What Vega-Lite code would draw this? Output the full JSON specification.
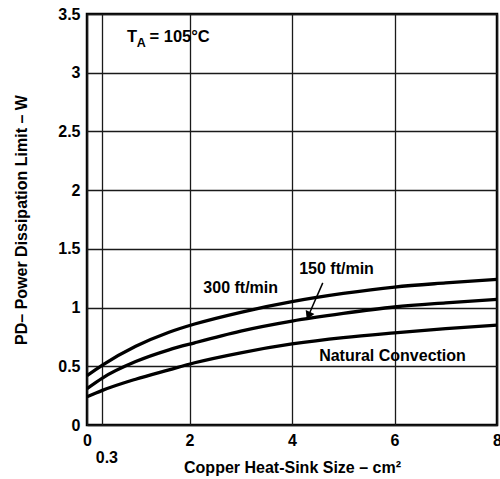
{
  "$schema": "https://vega.github.io/schema/vega-lite/v6.json",
  "width": 410,
  "height": 411,
  "autosize": "none",
  "padding": {"left": 87, "top": 14, "right": 3, "bottom": 54},
  "background": "white",
  "config": {
    "font": "Liberation Sans",
    "view": {"stroke": "black", "strokeWidth": 2.5},
    "axis": {
      "domain": false,
      "ticks": false,
      "gridColor": "#1a1a1a",
      "gridWidth": 1.3,
      "gridOpacity": 1,
      "labelFont": "Liberation Sans",
      "labelFontWeight": "bold",
      "labelFontSize": 16,
      "labelColor": "black",
      "titleFont": "Liberation Sans",
      "titleFontWeight": "bold",
      "titleFontSize": 16,
      "titleColor": "black"
    }
  },
  "datasets": {
    "curves": [
      {"area": 0, "pd": 0.42, "series": "300 ft/min"},
      {"area": 0.3, "pd": 0.51, "series": "300 ft/min"},
      {"area": 0.95, "pd": 0.67, "series": "300 ft/min"},
      {"area": 1.6, "pd": 0.79, "series": "300 ft/min"},
      {"area": 2.1, "pd": 0.86, "series": "300 ft/min"},
      {"area": 3, "pd": 0.96, "series": "300 ft/min"},
      {"area": 4, "pd": 1.05, "series": "300 ft/min"},
      {"area": 5, "pd": 1.12, "series": "300 ft/min"},
      {"area": 6, "pd": 1.175, "series": "300 ft/min"},
      {"area": 7, "pd": 1.21, "series": "300 ft/min"},
      {"area": 8, "pd": 1.24, "series": "300 ft/min"},
      {"area": 0, "pd": 0.31, "series": "150 ft/min"},
      {"area": 0.3, "pd": 0.40, "series": "150 ft/min"},
      {"area": 0.95, "pd": 0.54, "series": "150 ft/min"},
      {"area": 1.6, "pd": 0.64, "series": "150 ft/min"},
      {"area": 2.1, "pd": 0.70, "series": "150 ft/min"},
      {"area": 3, "pd": 0.80, "series": "150 ft/min"},
      {"area": 4, "pd": 0.885, "series": "150 ft/min"},
      {"area": 5, "pd": 0.95, "series": "150 ft/min"},
      {"area": 6, "pd": 1.005, "series": "150 ft/min"},
      {"area": 7, "pd": 1.04, "series": "150 ft/min"},
      {"area": 8, "pd": 1.07, "series": "150 ft/min"},
      {"area": 0, "pd": 0.24, "series": "Natural Convection"},
      {"area": 0.3, "pd": 0.295, "series": "Natural Convection"},
      {"area": 0.95, "pd": 0.39, "series": "Natural Convection"},
      {"area": 1.6, "pd": 0.47, "series": "Natural Convection"},
      {"area": 2.1, "pd": 0.53, "series": "Natural Convection"},
      {"area": 3, "pd": 0.615, "series": "Natural Convection"},
      {"area": 4, "pd": 0.69, "series": "Natural Convection"},
      {"area": 5, "pd": 0.745, "series": "Natural Convection"},
      {"area": 6, "pd": 0.785, "series": "Natural Convection"},
      {"area": 7, "pd": 0.82, "series": "Natural Convection"},
      {"area": 8, "pd": 0.85, "series": "Natural Convection"}
    ],
    "labels": [
      {"area": 2.27, "pd": 1.165, "text": "300 ft/min"},
      {"area": 4.14, "pd": 1.33, "text": "150 ft/min"},
      {"area": 4.53, "pd": 0.59, "text": "Natural Convection"}
    ],
    "ta_main": [
      {"area": 0.78, "pd": 3.30, "text": "T"},
      {"area": 1.22, "pd": 3.30, "text": "= 105°C"}
    ],
    "ta_sub": [
      {"area": 0.97, "pd": 3.25, "text": "A"}
    ],
    "arrow": [
      {"area": 4.6, "pd": 1.21, "area2": 4.32, "pd2": 0.93}
    ],
    "arrowhead": [
      {"area": 4.32, "pd": 0.93}
    ]
  },
  "layer": [
    {
      "data": {"name": "curves"},
      "mark": {"type": "line", "interpolate": "monotone", "color": "black", "strokeWidth": 3.3},
      "encoding": {
        "x": {
          "field": "area", "type": "quantitative",
          "scale": {"domain": [0, 8], "nice": false, "zero": false},
          "axis": {
            "values": [0, 0.3, 2, 4, 6, 8],
            "format": "~g",
            "labelPadding": {"condition": {"test": "datum.value == 0.3", "value": 24}, "value": 7},
            "labelOffset": {"condition": {"test": "datum.value == 0.3", "value": 4}, "value": 0},
            "labelFlush": false,
            "labelOverlap": false,
            "title": "Copper Heat-Sink Size – cm²",
            "titlePadding": -6
          }
        },
        "y": {
          "field": "pd", "type": "quantitative",
          "scale": {"domain": [0, 3.5], "nice": false},
          "axis": {
            "values": [0, 0.5, 1, 1.5, 2, 2.5, 3, 3.5],
            "format": "~g",
            "labelPadding": 7,
            "labelFlush": false,
            "labelOverlap": false,
            "title": "PD– Power Dissipation Limit – W",
            "titlePadding": 28
          }
        },
        "detail": {"field": "series"}
      }
    },
    {
      "data": {"name": "labels"},
      "mark": {"type": "text", "align": "left", "baseline": "middle", "font": "Liberation Sans", "fontWeight": "bold", "fontSize": 16, "color": "black"},
      "encoding": {
        "x": {"field": "area", "type": "quantitative"},
        "y": {"field": "pd", "type": "quantitative"},
        "text": {"field": "text"}
      }
    },
    {
      "data": {"name": "ta_main"},
      "mark": {"type": "text", "align": "left", "baseline": "middle", "font": "Liberation Sans", "fontWeight": "bold", "fontSize": 16.5, "color": "black"},
      "encoding": {
        "x": {"field": "area", "type": "quantitative"},
        "y": {"field": "pd", "type": "quantitative"},
        "text": {"field": "text"}
      }
    },
    {
      "data": {"name": "ta_sub"},
      "mark": {"type": "text", "align": "left", "baseline": "middle", "font": "Liberation Sans", "fontWeight": "bold", "fontSize": 12.5, "color": "black"},
      "encoding": {
        "x": {"field": "area", "type": "quantitative"},
        "y": {"field": "pd", "type": "quantitative"},
        "text": {"field": "text"}
      }
    },
    {
      "data": {"name": "arrow"},
      "mark": {"type": "rule", "color": "black", "strokeWidth": 1.5},
      "encoding": {
        "x": {"field": "area", "type": "quantitative"},
        "y": {"field": "pd", "type": "quantitative"},
        "x2": {"field": "area2"},
        "y2": {"field": "pd2"}
      }
    },
    {
      "data": {"name": "arrowhead"},
      "mark": {"type": "point", "shape": "triangle-up", "filled": true, "color": "black", "opacity": 1, "size": 90, "angle": 204},
      "encoding": {
        "x": {"field": "area", "type": "quantitative"},
        "y": {"field": "pd", "type": "quantitative"}
      }
    }
  ]
}
